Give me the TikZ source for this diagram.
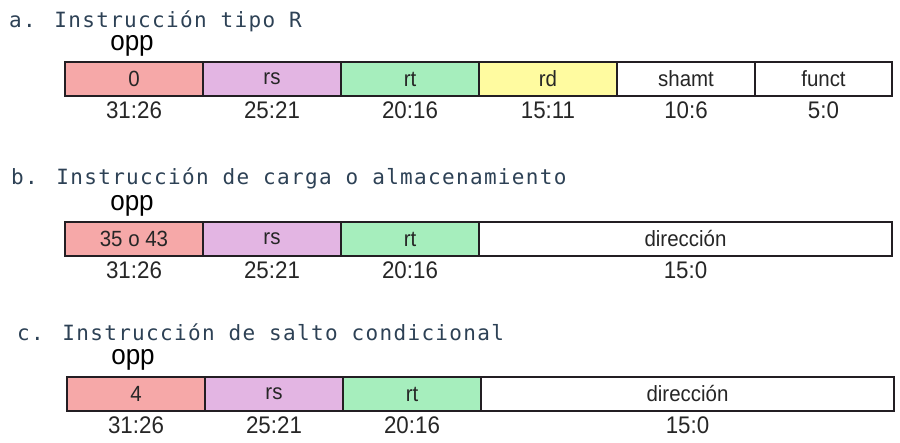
\documentclass[tikz,border=0pt]{standalone}
\usepackage{fontspec}
\newfontfamily\labfont{Liberation Sans}[FakeStretch=0.93]
\newfontfamily\headfont{DejaVu Sans Mono}[LetterSpace=6.3]
\definecolor{cred}{RGB}{246,168,168}
\definecolor{cpur}{RGB}{227,181,227}
\definecolor{cgrn}{RGB}{166,238,189}
\definecolor{cyel}{RGB}{255,251,160}
\definecolor{chead}{RGB}{45,65,85}
\definecolor{cline}{RGB}{35,30,35}
\begin{document}
\begin{tikzpicture}[x=1pt,y=-1pt,
  cell/.style={draw=cline,line width=1.3pt,anchor=north west,minimum height=34pt,
    inner sep=0pt,outer sep=0pt,font=\labfont\fontsize{22}{22}\selectfont,text=black!85},
  bits/.style={font=\labfont\fontsize{24}{24}\selectfont,text=black!85,inner sep=0pt},
  opplab/.style={font=\labfont\fontsize{28}{28}\selectfont,anchor=base,inner sep=0pt},
  heading/.style={font=\headfont\fontsize{21}{21}\selectfont,text=chead,anchor=base west,inner sep=0pt}]
\useasboundingbox (0,0) rectangle (900,443);
% ---- a ----
\node[heading] (ha) at (9,28) {a. Instrucción tipo R};
\node[opplab] (oa) at (132,51) {opp};
\node[cell,fill=cred,minimum width=138pt] (a1) at (65,62) {0};
\node[cell,fill=cpur,minimum width=138pt] (a2) at (a1.north east) {rs};
\node[cell,fill=cgrn,minimum width=138pt] (a3) at (a2.north east) {rt};
\node[cell,fill=cyel,minimum width=138pt] (a4) at (a3.north east) {rd};
\node[cell,fill=white,minimum width=138pt] (a5) at (a4.north east) {shamt};
\node[cell,fill=white,minimum width=137pt] (a6) at (a5.north east) {funct};
\node[bits] (ba1) at ([yshift=-14pt]a1.south) {31:26};
\node[bits] (ba2) at ([yshift=-14pt]a2.south) {25:21};
\node[bits] (ba3) at ([yshift=-14pt]a3.south) {20:16};
\node[bits] (ba4) at ([yshift=-14pt]a4.south) {15:11};
\node[bits] (ba5) at ([yshift=-14pt]a5.south) {10:6};
\node[bits] (ba6) at ([yshift=-14pt]a6.south) {5:0};
% ---- b ----
\node[heading] (hb) at (11,185) {b. Instrucción de carga o almacenamiento};
\node[opplab] (ob) at (132,211) {opp};
\node[cell,fill=cred,minimum width=138pt] (b1) at (65,222) {35 o 43};
\node[cell,fill=cpur,minimum width=138pt] (b2) at (b1.north east) {rs};
\node[cell,fill=cgrn,minimum width=138pt] (b3) at (b2.north east) {rt};
\node[cell,fill=white,minimum width=413pt] (b4) at (b3.north east) {dirección};
\node[bits] (bb1) at ([yshift=-14pt]b1.south) {31:26};
\node[bits] (bb2) at ([yshift=-14pt]b2.south) {25:21};
\node[bits] (bb3) at ([yshift=-14pt]b3.south) {20:16};
\node[bits] (bb4) at ([yshift=-14pt]b4.south) {15:0};
% ---- c ----
\node[heading] (hc) at (17,341) {c. Instrucción de salto condicional};
\node[opplab] (oc) at (133,365) {opp};
\node[cell,fill=cred,minimum width=138pt] (c1) at (67,377) {4};
\node[cell,fill=cpur,minimum width=138pt] (c2) at (c1.north east) {rs};
\node[cell,fill=cgrn,minimum width=138pt] (c3) at (c2.north east) {rt};
\node[cell,fill=white,minimum width=413pt] (c4) at (c3.north east) {dirección};
\node[bits] (bc1) at ([yshift=-14pt]c1.south) {31:26};
\node[bits] (bc2) at ([yshift=-14pt]c2.south) {25:21};
\node[bits] (bc3) at ([yshift=-14pt]c3.south) {20:16};
\node[bits] (bc4) at ([yshift=-14pt]c4.south) {15:0};
\end{tikzpicture}
\end{document}
